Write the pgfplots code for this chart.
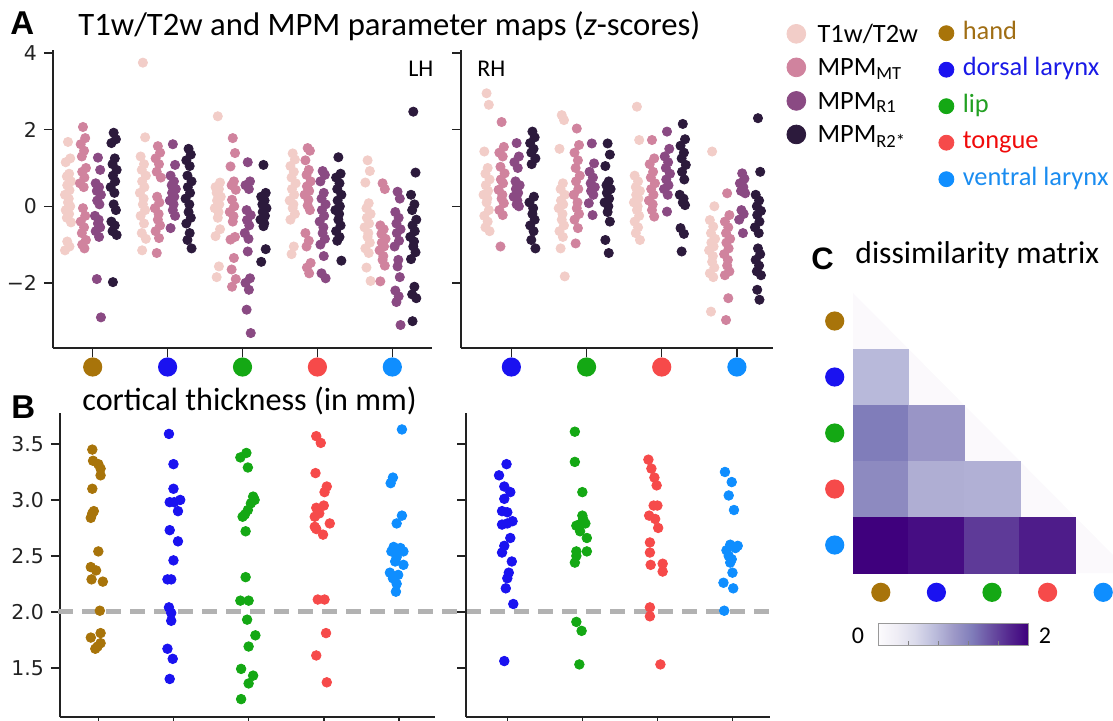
\documentclass[border=0pt]{standalone}
\usepackage{fontspec}
\setmainfont{Carlito}
\newfontfamily\dejavu{DejaVu Sans}
\newfontfamily\arialf{Liberation Sans}
\usepackage{pgfplots}
\usepackage{pgfplotstable}
\pgfplotsset{compat=1.18}

\definecolor{t1c}{HTML}{F2CDC8}
\definecolor{mtc}{HTML}{D0839E}
\definecolor{r1c}{HTML}{8A4A83}
\definecolor{r2c}{HTML}{2C1A3C}
\definecolor{handc}{HTML}{A8740A}
\definecolor{dorsc}{HTML}{1A12F0}
\definecolor{lipc}{HTML}{14A814}
\definecolor{tongc}{HTML}{F64A4A}
\definecolor{ventc}{HTML}{0F8EFF}
\definecolor{handt}{HTML}{A06E14}
\definecolor{dorst}{HTML}{1A1AE6}
\definecolor{lipt}{HTML}{22A022}
\definecolor{tongt}{HTML}{F00A0A}
\definecolor{ventt}{HTML}{1A8CF0}
\definecolor{spine}{HTML}{222222}
\definecolor{faint}{HTML}{FBF9FC}

\newcommand{\catdot}[2]{\tikz\fill[#1] (0,0) circle (#2);}
\newcommand{\stripA}[4]{\addplot[only marks, mark=*, mark size=2.3pt, color=#1, forget plot] table[x expr={#2+\thisrow{j}}, y=#3] {#4};}

% ---------- panel A data: rows = points, columns = categories (z-scores) ----------
\pgfplotstableread[row sep=\\]{
j a b c d e\\
0 1.68 3.75 2.35 1.38 1.2\\
0.03 1.25 1.8 0.62 1.22 0.92\\
-0.03 1.15 1.3 0.5 1.05 0.62\\
0.015 0.85 1.1 0.45 0.9 0.08\\
-0.015 0.78 0.95 0.35 0.75 -0.05\\
0.04 0.65 0.8 0.25 0.6 -0.2\\
-0.01 0.55 0.65 0.15 0.45 -0.3\\
0.02 0.42 0.5 0.05 0.3 -0.45\\
-0.04 0.3 0.35 -0.05 0.15 -0.55\\
0.01 0.2 0.2 -0.15 0.05 -0.7\\
0 0.1 0.05 -0.3 -0.05 -0.8\\
0.03 0.0 -0.1 -0.6 -0.2 -0.95\\
-0.03 -0.1 -0.25 -0.78 -0.35 -1.1\\
0.015 -0.2 -0.45 -1.57 -1.05 -1.22\\
-0.015 -0.3 -0.7 -1.85 -1.25 -1.6\\
0.04 -0.42 -0.85 nan nan -1.95\\
-0.01 -0.92 -1.15 nan nan nan\\
0.02 -1.05 nan nan nan nan\\
-0.04 -1.15 nan nan nan nan\\
}\LHt

\pgfplotstableread[row sep=\\]{
j a b c d e\\
0 2.07 1.57 1.78 1.52 0.6\\
0.03 1.78 1.4 1.39 1.45 0.45\\
-0.03 1.62 1.25 1.04 1.2 -0.5\\
0.015 1.45 1.1 0.65 0.95 -0.6\\
-0.015 1.3 0.9 0.55 0.82 -0.72\\
0.04 1.0 0.75 0.43 0.65 -0.85\\
-0.01 0.9 0.25 0.17 0.52 -0.95\\
0.02 0.75 0.1 0.0 0.4 -1.05\\
-0.04 0.6 -0.05 -0.15 0.3 -1.15\\
0.01 0.5 -0.2 -0.26 0.17 -1.3\\
0 -0.05 -0.35 -0.4 0.02 -1.4\\
0.03 -0.25 -0.5 -0.8 -0.1 -1.55\\
-0.03 -0.4 -0.65 -0.87 -0.7 -1.96\\
0.015 -0.55 -0.83 -1.35 -0.9 nan\\
-0.015 -0.7 -1.22 -1.65 -1.05 nan\\
0.04 -0.88 nan -1.9 -1.48 nan\\
-0.01 -1.0 nan -2.1 -1.6 nan\\
0.02 -1.1 nan nan -1.75 nan\\
}\LHm

\pgfplotstableread[row sep=\\]{
j a b c d e\\
0 1.27 1.62 1.15 0.92 0.38\\
0.03 0.95 1.08 0.65 0.82 0.2\\
-0.03 0.6 0.8 0.55 0.65 -0.15\\
0.015 0.5 0.65 0.45 0.35 -0.3\\
-0.015 0.4 0.55 -0.1 0.2 -0.45\\
0.04 0.3 0.45 -0.23 0.05 -0.6\\
-0.01 0.15 0.35 -0.36 -0.1 -0.7\\
0.02 0.05 0.25 -0.5 -0.25 -0.9\\
-0.04 -0.25 0.15 -0.7 -0.4 -1.05\\
0.01 -0.35 0.05 -0.85 -0.55 -1.4\\
0 -0.45 -0.1 -1.18 -0.7 -1.57\\
0.03 -0.55 -0.25 -1.88 -0.85 -1.85\\
-0.03 -0.65 -0.57 -2.0 -1.0 -2.2\\
0.015 -0.8 nan -2.18 -1.3 -2.35\\
-0.015 -1.9 nan -2.7 -1.75 -2.5\\
0.04 -2.9 nan -3.31 -1.88 -3.1\\
}\LHr

\pgfplotstableread[row sep=\\]{
j a b c d e\\
0 1.92 1.5 1.08 1.28 2.47\\
0.03 1.75 1.35 0.35 0.85 0.88\\
-0.03 1.65 1.2 0.25 0.75 0.3\\
0.015 1.25 1.05 0.15 0.6 0.05\\
-0.015 1.1 0.8 0.05 0.45 -0.1\\
0.04 0.95 0.65 -0.05 0.3 -0.35\\
-0.01 0.8 0.5 -0.15 0.15 -0.5\\
0.02 0.65 0.35 -0.25 0.0 -0.65\\
-0.04 0.5 0.2 -0.35 -0.1 -0.8\\
0.01 0.35 0.05 -0.45 -0.2 -0.92\\
0 0.05 -0.15 -0.52 -0.35 -1.05\\
0.03 -0.1 -0.3 -1.12 -0.5 -1.2\\
-0.03 -0.4 -0.45 -1.45 -0.65 -1.38\\
0.015 -0.5 -0.7 nan -0.8 -2.1\\
-0.015 -0.65 -0.88 nan -0.9 -2.3\\
0.04 -0.75 -1.1 nan -1.42 -2.4\\
-0.01 -1.98 nan nan nan -3.0\\
}\LHs

\pgfplotstableread[row sep=\\]{
j a b c d\\
0 2.95 2.38 2.6 1.43\\
0.03 2.65 2.25 1.73 0.0\\
-0.03 1.43 1.5 0.8 -0.36\\
0.015 1.0 0.6 0.65 -0.53\\
-0.015 0.85 0.45 0.5 -0.7\\
0.04 0.7 0.3 0.4 -0.85\\
-0.01 0.55 0.15 0.3 -0.95\\
0.02 0.4 0.05 0.2 -1.05\\
-0.04 0.3 -0.05 0.1 -1.15\\
0.01 0.2 -0.2 0.0 -1.3\\
0 0.1 -0.35 -0.1 -1.45\\
0.03 -0.1 -0.5 -0.25 -1.6\\
-0.03 -0.25 -0.65 -0.4 -1.75\\
0.015 -0.4 -0.8 -0.55 -1.85\\
-0.015 -0.55 -1.1 -0.7 -2.75\\
0.04 -0.65 -1.83 -0.88 nan\\
}\RHt

\pgfplotstableread[row sep=\\]{
j a b c d\\
0 2.2 2.03 1.73 0.34\\
0.03 1.55 1.6 1.25 -0.23\\
-0.03 1.4 1.4 1.1 -0.4\\
0.015 1.3 1.2 0.9 -0.55\\
-0.015 1.03 1.0 0.75 -0.7\\
0.04 0.86 0.8 0.6 -0.85\\
-0.01 0.7 0.65 0.45 -0.95\\
0.02 0.6 0.45 0.3 -1.1\\
-0.04 0.43 0.3 0.15 -1.25\\
0.01 0.3 0.1 0.05 -1.4\\
0 0.2 -0.05 -0.1 -1.55\\
0.03 0.08 -0.2 -0.27 -1.7\\
-0.03 -0.1 -0.35 nan -1.8\\
0.015 -0.23 -0.57 nan -2.4\\
-0.015 -1.05 -0.97 nan -2.97\\
}\RHm

\pgfplotstableread[row sep=\\]{
j a b c d\\
0 1.65 1.64 1.95 0.86\\
0.03 1.3 1.12 1.5 0.72\\
-0.03 1.15 0.9 1.3 0.6\\
0.015 1.0 0.75 1.15 0.5\\
-0.015 0.65 0.6 1.0 0.4\\
0.04 0.55 0.5 0.85 0.34\\
-0.01 0.45 0.4 0.7 -0.1\\
0.02 0.35 0.3 0.55 -0.2\\
-0.04 0.25 0.08 0.45 -0.35\\
0.01 0.15 -0.23 0.3 -0.7\\
0 0.05 nan -0.14 nan\\
0.03 0.0 nan nan nan\\
}\RHr

\pgfplotstableread[row sep=\\]{
j a b c d\\
0 1.95 1.64 2.15 2.3\\
0.03 1.8 1.35 1.75 0.9\\
-0.03 1.65 1.05 1.58 0.3\\
0.015 1.5 0.65 1.4 0.15\\
-0.015 1.4 0.55 1.25 0.0\\
0.04 1.25 0.45 1.08 -0.12\\
-0.01 1.1 0.35 0.9 -0.23\\
0.02 0.25 0.2 0.7 -0.4\\
-0.04 0.1 0.1 0.3 -0.55\\
0.01 -0.05 0.0 0.2 -0.7\\
0 -0.2 -0.15 0.1 -1.1\\
0.03 -0.35 -0.4 0.03 -1.25\\
-0.03 -0.5 -0.88 -0.57 -1.4\\
0.015 -0.65 -1.22 -0.72 -1.55\\
-0.015 -0.88 nan -1.18 -1.7\\
0.04 -1.1 nan nan -1.8\\
-0.01 nan nan nan -2.18\\
0.02 nan nan nan -2.44\\
}\RHs

\pgfplotsset{
  base/.style={scale only axis, axis x line*=bottom, axis y line*=left,
    axis line style={line width=0.75pt, spine, -},
    tick align=outside, major tick length=4.5pt,
    tick style={line width=0.75pt, spine},
    yticklabel style={font=\dejavu\fontsize{10.2pt}{12pt}\selectfont, text=spine},
    clip=false},
  Aax/.style={base, ymin=-3.70, ymax=4.08, ytick={-2,0,2,4},
    xtick={0,1,2,3,4}, xticklabel style={inner sep=0pt, anchor=north}},
  Bax/.style={base, ymin=1.06, ymax=3.777, ytick={1.5,2,2.5,3,3.5},
    xtick={0,1,2,3,4}, xticklabels={}},
  l1img/.style={legend image code/.code={\fill (4.7pt,4.2pt) circle (4.7pt);}},
  l2img/.style={legend image code/.code={\fill (3.75pt,2.9pt) circle (3.75pt);}},
  Bdot/.style={only marks, mark=*, mark size=2.4pt, color=#1},
}

\begin{document}
\begin{tikzpicture}
\useasboundingbox (0,0) rectangle (556.5pt,360pt);
\begin{scope}[x=0.5pt,y=-0.5pt,shift={(0pt,360pt)}]
  \node[anchor=base west, inner sep=0pt, font=\arialf\bfseries\fontsize{16.5pt}{18pt}\selectfont] at (10,34) {A};
  \node[anchor=base west, inner sep=0pt, font=\fontsize{16.35pt}{19pt}\selectfont] at (78,35) {T1w/T2w and MPM parameter maps (\textit{z}-scores)};
  \node[anchor=base west, inner sep=0pt, font=\fontsize{12pt}{14pt}\selectfont] at (408,76) {LH};
  \node[anchor=base west, inner sep=0pt, font=\fontsize{12pt}{14pt}\selectfont] at (477,76) {RH};
  \node[anchor=base west, inner sep=0pt, font=\arialf\bfseries\fontsize{16.5pt}{18pt}\selectfont] at (11,418) {B};
  \node[anchor=base west, inner sep=0pt, font=\fontsize{16.1pt}{19pt}\selectfont] at (82,410) {cortical thickness (in mm)};
  \node[anchor=base west, inner sep=0pt, font=\arialf\bfseries\fontsize{15.5pt}{18pt}\selectfont] at (811,269) {C};
  \node[anchor=base west, inner sep=0pt, font=\fontsize{15.8pt}{19pt}\selectfont] at (855,263) {dissimilarity matrix};
  \node[anchor=center, inner sep=0pt, font=\fontsize{12pt}{14pt}\selectfont] at (858,636) {0};
  \node[anchor=center, inner sep=0pt, font=\fontsize{12pt}{14pt}\selectfont] at (1045,636) {2};
\end{scope}

% ---------------- A, LH ----------------
\begin{axis}[Aax, at={(26.5pt,186pt)}, anchor=south west, width=189.5pt, height=149pt,
  xmin=-0.53, xmax=4.53, yticklabels={−2,0,2,4},
  xticklabels={\catdot{handc}{4.8pt},\catdot{dorsc}{4.8pt},\catdot{lipc}{4.8pt},\catdot{tongc}{4.8pt},\catdot{ventc}{4.8pt}},
  legend style={at={(1.9354,1.0872)}, anchor=north west, draw=none, fill=none, inner sep=0pt, outer sep=0pt,
    row sep=3.67pt, font=\fontsize{13.2pt}{15pt}\selectfont,
    cells={anchor=base west}, nodes={inner sep=0pt, text height=9pt, text depth=4pt},
    /tikz/every odd column/.append style={column sep=5.75pt}}]
\stripA{t1c}{-0.33}{a}{\LHt}\stripA{t1c}{0.67}{b}{\LHt}\stripA{t1c}{1.67}{c}{\LHt}\stripA{t1c}{2.67}{d}{\LHt}\stripA{t1c}{3.67}{e}{\LHt}
\stripA{mtc}{-0.13}{a}{\LHm}\stripA{mtc}{0.87}{b}{\LHm}\stripA{mtc}{1.87}{c}{\LHm}\stripA{mtc}{2.87}{d}{\LHm}\stripA{mtc}{3.87}{e}{\LHm}
\stripA{r1c}{0.07}{a}{\LHr}\stripA{r1c}{1.07}{b}{\LHr}\stripA{r1c}{2.07}{c}{\LHr}\stripA{r1c}{3.07}{d}{\LHr}\stripA{r1c}{4.07}{e}{\LHr}
\stripA{r2c}{0.28}{a}{\LHs}\stripA{r2c}{1.28}{b}{\LHs}\stripA{r2c}{2.28}{c}{\LHs}\stripA{r2c}{3.28}{d}{\LHs}\stripA{r2c}{4.28}{e}{\LHs}
\addlegendimage{l1img, t1c}\addlegendentry{T1w/T2w}
\addlegendimage{l1img, mtc}\addlegendentry{MPM\textsubscript{MT}}
\addlegendimage{l1img, r1c}\addlegendentry{MPM\textsubscript{R1}}
\addlegendimage{l1img, r2c}\addlegendentry{MPM\textsubscript{R2*}}
\end{axis}

% ---------------- A, RH ----------------
\begin{axis}[Aax, at={(230.5pt,186pt)}, anchor=south west, width=156pt, height=149pt,
  xmin=-0.67, xmax=3.48, yticklabels={},
  xticklabels={\catdot{dorsc}{4.8pt},\catdot{lipc}{4.8pt},\catdot{tongc}{4.8pt},\catdot{ventc}{4.8pt}},
  legend style={at={(1.5304,1.0973)}, anchor=north west, draw=none, fill=none, inner sep=0pt, outer sep=0pt,
    row sep=5.25pt, font=\fontsize{13.2pt}{15pt}\selectfont,
    cells={anchor=base west}, nodes={inner sep=0pt, text height=9pt, text depth=4pt},
    /tikz/every odd column/.append style={column sep=4.25pt}}]
\stripA{t1c}{-0.33}{a}{\RHt}\stripA{t1c}{0.67}{b}{\RHt}\stripA{t1c}{1.67}{c}{\RHt}\stripA{t1c}{2.67}{d}{\RHt}
\stripA{mtc}{-0.13}{a}{\RHm}\stripA{mtc}{0.87}{b}{\RHm}\stripA{mtc}{1.87}{c}{\RHm}\stripA{mtc}{2.87}{d}{\RHm}
\stripA{r1c}{0.07}{a}{\RHr}\stripA{r1c}{1.07}{b}{\RHr}\stripA{r1c}{2.07}{c}{\RHr}\stripA{r1c}{3.07}{d}{\RHr}
\stripA{r2c}{0.28}{a}{\RHs}\stripA{r2c}{1.28}{b}{\RHs}\stripA{r2c}{2.28}{c}{\RHs}\stripA{r2c}{3.28}{d}{\RHs}
\addlegendimage{l2img, handc}\addlegendentry{\textcolor{handt}{hand}}
\addlegendimage{l2img, dorsc}\addlegendentry{\textcolor{dorst}{dorsal larynx}}
\addlegendimage{l2img, lipc}\addlegendentry{\textcolor{lipt}{lip}}
\addlegendimage{l2img, tongc}\addlegendentry{\textcolor{tongt}{tongue}}
\addlegendimage{l2img, ventc}\addlegendentry{\textcolor{ventt}{ventral larynx}}
\end{axis}

% ---------------- B, LH ----------------
\begin{axis}[Bax, at={(30pt,1.5pt)}, anchor=south west, width=187.5pt, height=152pt,
  xmin=-0.51, xmax=4.48, yticklabels={1.5,2.0,2.5,3.0,3.5}]
\draw[black!30, line width=2.6pt, dash pattern=on 7.5pt off 4.5pt] (axis cs:-0.533,2) -- (axis cs:9.0,2);
\addplot[Bdot=handc] coordinates {(-0.08,3.45) (-0.07,3.35) (0.0,3.32) (0.03,3.28) (0.03,3.22) (-0.08,3.10) (-0.08,2.88) (-0.06,2.90) (-0.1,2.84) (0.0,2.54) (-0.1,2.40) (-0.03,2.37) (-0.09,2.29) (0.06,2.27) (0.02,2.01) (-0.1,1.77) (0.03,1.81) (-0.01,1.69) (0.03,1.72) (-0.04,1.67)};
\addplot[Bdot=dorsc] coordinates {(0.94,3.59) (1.0,3.32) (1.0,3.10) (0.95,2.98) (1.09,3.0) (1.01,2.98) (1.06,2.9) (0.95,2.73) (1.06,2.63) (1.0,2.46) (0.92,2.29) (0.97,2.29) (0.94,2.04) (0.97,1.99) (0.97,1.92) (0.92,1.67) (0.99,1.58) (0.95,1.40)};
\addplot[Bdot=lipc] coordinates {(1.89,3.38) (1.97,3.42) (1.99,3.29) (2.06,3.03) (2.08,3.0) (2.03,2.97) (1.99,2.91) (1.95,2.87) (1.92,2.85) (1.96,2.72) (1.96,2.31) (1.89,2.1) (2.0,2.1) (1.98,1.93) (2.09,1.79) (2.0,1.69) (1.9,1.49) (2.06,1.43) (2.0,1.36) (1.9,1.22)};
\addplot[Bdot=tongc] coordinates {(2.9,3.57) (2.96,3.51) (2.89,3.24) (3.04,3.12) (3.01,3.07) (3.0,2.95) (2.9,2.93) (2.94,2.88) (2.88,2.85) (3.08,2.79) (2.88,2.76) (2.99,2.69) (2.9,2.74) (2.92,2.11) (3.01,2.11) (3.03,1.81) (2.9,1.61) (3.04,1.37)};
\addplot[Bdot=ventc] coordinates {(4.04,3.63) (3.92,3.2) (3.89,3.15) (4.04,2.86) (3.97,2.79) (3.99,2.55) (3.9,2.54) (4.06,2.54) (3.97,2.49) (3.95,2.45) (4.06,2.42) (3.88,2.35) (3.99,2.33) (3.92,2.3) (3.97,2.25) (3.96,2.18) (4.02,2.57) (3.93,2.58)};
\end{axis}

% ---------------- B, RH ----------------
\begin{axis}[Bax, at={(233pt,1.5pt)}, anchor=south west, width=152pt, height=152pt,
  xmin=-0.55, xmax=3.5, yticklabels={}]
\addplot[Bdot=dorsc] coordinates {(-0.01,3.32) (-0.11,3.22) (-0.04,3.12) (0.04,3.07) (-0.04,3.01) (-0.07,2.9) (0,2.89) (0.07,2.81) (-0.07,2.78) (0,2.79) (0.04,2.66) (-0.04,2.59) (-0.07,2.53) (0.06,2.45) (0.02,2.35) (0,2.3) (-0.02,2.21) (0.08,2.07) (-0.04,1.56)};
\addplot[Bdot=lipc] coordinates {(0.9,3.61) (0.9,3.34) (1,3.07) (1,2.86) (0.96,2.78) (1.04,2.79) (0.92,2.77) (1.06,2.66) (0.92,2.54) (1.06,2.54) (0.9,2.44) (0.92,2.5) (0.92,1.91) (0.99,1.83) (0.96,1.53) (1.01,2.83) (0.97,2.72)};
\addplot[Bdot=tongc] coordinates {(1.88,3.36) (1.92,3.28) (1.96,3.2) (1.99,3.13) (1.95,2.95) (2,2.95) (1.89,2.86) (2.01,2.75) (1.9,2.62) (1.9,2.53) (1.91,2.42) (2.07,2.43) (2.07,2.36) (1.9,2.04) (1.9,1.96) (2.04,1.53) (1.97,2.83)};
\addplot[Bdot=ventc] coordinates {(2.9,3.25) (2.99,3.16) (2.95,3.04) (3.02,2.91) (2.97,2.6) (3.07,2.59) (2.92,2.55) (2.95,2.5) (2.97,2.44) (3,2.35) (2.88,2.26) (3.01,2.21) (2.89,2.01) (3.04,2.57) (2.99,2.47)};
\end{axis}

% ---------------- C, dissimilarity matrix ----------------
\begin{axis}[scale only axis, at={(426.5pt,73.5pt)}, anchor=south west, width=139pt, height=140pt,
  xmin=-0.5, xmax=4.5, ymin=-0.5, ymax=4.5, clip=false,
  axis line style={draw=none}, major tick length=0pt, tick style={draw=none},
  xtick={0,1,2,3,4}, ytick={0,1,2,3,4},
  xticklabels={\catdot{handc}{4.8pt},\catdot{dorsc}{4.8pt},\catdot{lipc}{4.8pt},\catdot{tongc}{4.8pt},\catdot{ventc}{4.8pt}},
  yticklabels={\catdot{ventc}{4.8pt},\catdot{tongc}{4.8pt},\catdot{lipc}{4.8pt},\catdot{dorsc}{4.8pt},\catdot{handc}{4.8pt}},
  xticklabel style={inner sep=0pt, anchor=north, yshift=-4.65pt},
  yticklabel style={inner sep=0pt, anchor=east, xshift=-4.15pt},
  colormap={purples}{rgb255=(252,251,253) rgb255=(239,237,245) rgb255=(218,218,235) rgb255=(188,189,220) rgb255=(158,154,200) rgb255=(128,125,186) rgb255=(106,81,163) rgb255=(84,39,143) rgb255=(63,0,125)},
  point meta min=0, point meta max=2,
  colorbar horizontal,
  colorbar style={at={(0.0899,-0.1786)}, anchor=north west,
    scale only axis, width=75pt, height=11pt, xtick={0.4,0.8,1.2,1.6}, xticklabels={},
    xtick pos=left, tick align=inside, major tick length=2pt,
    tick style={draw=gray, line width=0.4pt}, axis line style={draw=gray!80, line width=0.5pt}}]
\fill[faint] (axis cs:-0.5,4.5) -- (axis cs:4.5,-0.5) -- (axis cs:3.5,-0.5) -- (axis cs:3.5,0.5) -- (axis cs:2.5,0.5) -- (axis cs:2.5,1.5) -- (axis cs:1.5,1.5) -- (axis cs:1.5,2.5) -- (axis cs:0.5,2.5) -- (axis cs:0.5,3.5) -- (axis cs:-0.5,3.5) -- cycle;
\addplot[scatter, only marks, mark=square*, mark size=13.95pt, point meta=explicit,
  scatter/use mapped color={draw=mapped color, fill=mapped color}] coordinates {
  (0,3) [0.78]
  (0,2) [1.25] (1,2) [1.04]
  (0,1) [1.14] (1,1) [0.86] (2,1) [0.84]
  (0,0) [2.0] (1,0) [1.92] (2,0) [1.64] (3,0) [1.82]
};
\end{axis}
\end{tikzpicture}
\end{document}
